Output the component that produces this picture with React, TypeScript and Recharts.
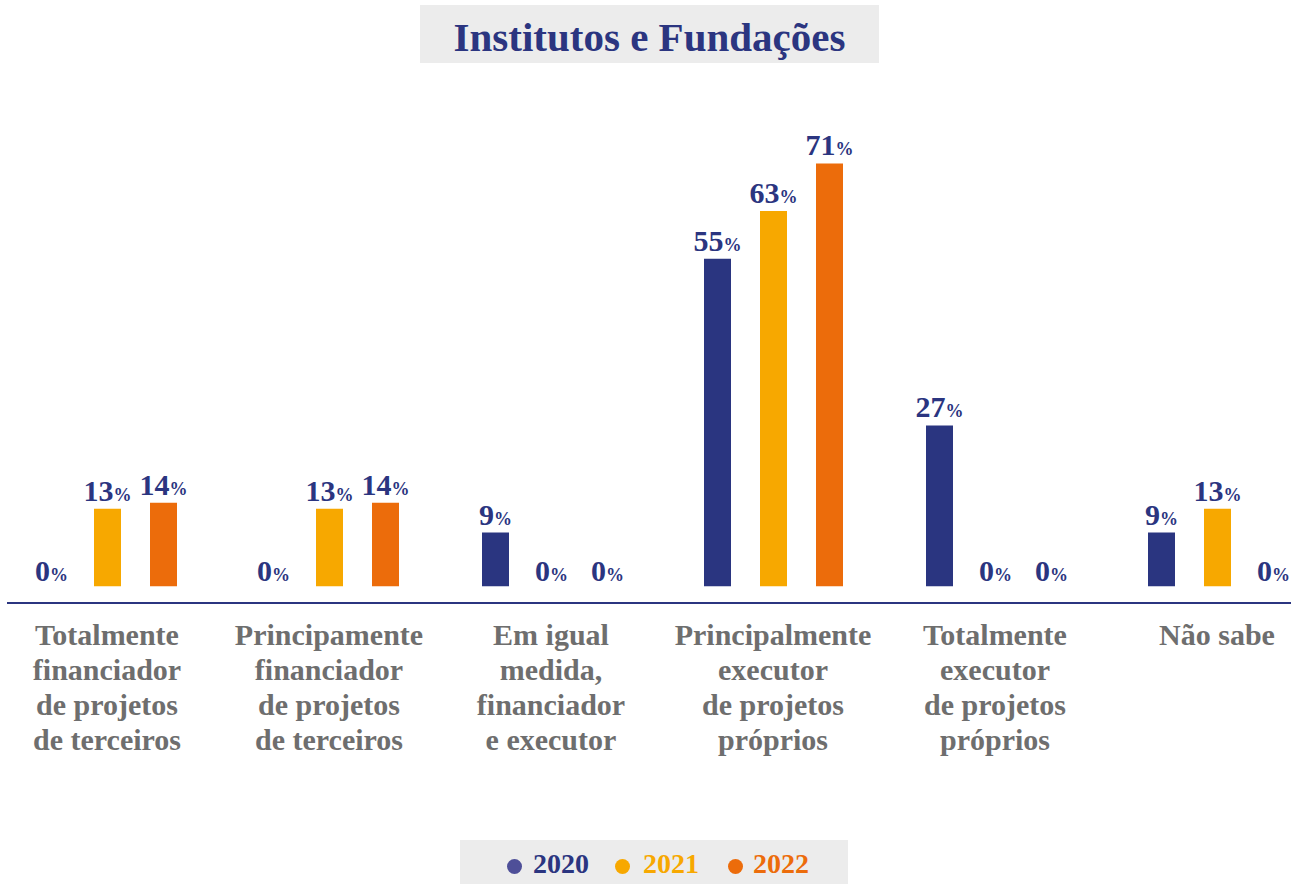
import { Bar, BarChart, LabelList, XAxis, YAxis } from "recharts";

const FONT = "'Liberation Serif', 'Times New Roman', serif";
const NAVY = "#2b3580";

const categories = [
  "Totalmente\nfinanciador\nde projetos\nde terceiros",
  "Principamente\nfinanciador\nde projetos\nde terceiros",
  "Em igual\nmedida,\nfinanciador\ne executor",
  "Principalmente\nexecutor\nde projetos\npróprios",
  "Totalmente\nexecutor\nde projetos\npróprios",
  "Não sabe",
];
const values2020 = [0, 0, 9, 55, 27, 9];
const values2021 = [13, 13, 0, 63, 0, 13];
const values2022 = [14, 14, 0, 71, 0, 0];

const years = ["2020", "2021", "2022"];
const barColors = ["#2a3580", "#f7a800", "#ec6c0b"];
const legendDotColors = ["#4e4f98", "#f7a800", "#ec6c0b"];
const legendTextColors = ["#2b3580", "#f7a800", "#ec6c0b"];

const data = categories.map((name, i) => ({
  name,
  y2020: values2020[i],
  y2021: values2021[i],
  y2022: values2022[i],
}));

function CategoryTick({ x, y, payload }: any) {
  const lines = String(payload.value).split("\n");
  return (
    <text
      x={x}
      y={y}
      textAnchor="middle"
      fill="#6e6e6e"
      fontFamily={FONT}
      fontWeight="bold"
      fontSize={30}
    >
      {lines.map((line, i) => (
        <tspan key={i} x={x} dy={i === 0 ? 41 : 35}>
          {line}
        </tspan>
      ))}
    </text>
  );
}

function ValueLabel({ x, y, width, height, value }: any) {
  // zero bars have a tiny height, keep their label just above the baseline
  const top = Number(y) + Math.min(0, Number(height));
  const offset = Number(value) === 0 ? 5 : 8;
  return (
    <text
      x={Number(x) + Number(width) / 2}
      y={top - offset}
      textAnchor="middle"
      fill={NAVY}
      fontFamily={FONT}
      fontWeight="bold"
    >
      <tspan fontSize={30}>{value}</tspan>
      <tspan fontSize={18}>%</tspan>
    </text>
  );
}

export default function App() {
  return (
    <div
      style={{
        position: "fixed",
        left: 0,
        top: 0,
        width: 1297,
        height: 884,
        overflow: "hidden",
        background: "#ffffff",
        fontFamily: FONT,
      }}
    >
      <div
        style={{
          position: "absolute",
          left: 420,
          top: 5,
          width: 459,
          height: 58,
          background: "#ececec",
          color: NAVY,
          fontWeight: "bold",
          fontSize: 41,
          lineHeight: "64px",
          textAlign: "center",
        }}
      >
        Institutos e Fundações
      </div>

      <div style={{ position: "absolute", left: -4, top: 0 }}>
        <BarChart
          width={1332}
          height={800}
          data={data}
          margin={{ top: 98, right: 0, bottom: 0, left: 0 }}
          barSize={27}
          barGap={29}
        >
          <XAxis
            dataKey="name"
            axisLine={false}
            tickLine={false}
            tickSize={0}
            tickMargin={0}
            height={196}
            interval={0}
            tick={<CategoryTick />}
          />
          <YAxis hide domain={[-3, 82]} />
          {years.map((year, i) => (
            <Bar
              key={year}
              dataKey={`y${year}`}
              fill={barColors[i]}
              minPointSize={0.01}
              isAnimationActive={false}
            >
              <LabelList dataKey={`y${year}`} content={<ValueLabel />} />
            </Bar>
          ))}
        </BarChart>
      </div>

      <div
        style={{
          position: "absolute",
          left: 7,
          top: 602,
          width: 1284,
          height: 2,
          background: NAVY,
        }}
      />

      <div
        style={{
          position: "absolute",
          left: 460,
          top: 840,
          width: 388,
          height: 44,
          background: "#ececec",
        }}
      >
        {years.map((year, i) => (
          <div key={year}>
            <span
              style={{
                position: "absolute",
                left: [47, 155, 268][i],
                top: 19,
                width: 15,
                height: 15,
                borderRadius: "50%",
                background: legendDotColors[i],
              }}
            />
            <span
              style={{
                position: "absolute",
                left: [73, 183, 293][i],
                top: 8,
                fontSize: 28,
                fontWeight: "bold",
                lineHeight: "32px",
                color: legendTextColors[i],
              }}
            >
              {year}
            </span>
          </div>
        ))}
      </div>
    </div>
  );
}
